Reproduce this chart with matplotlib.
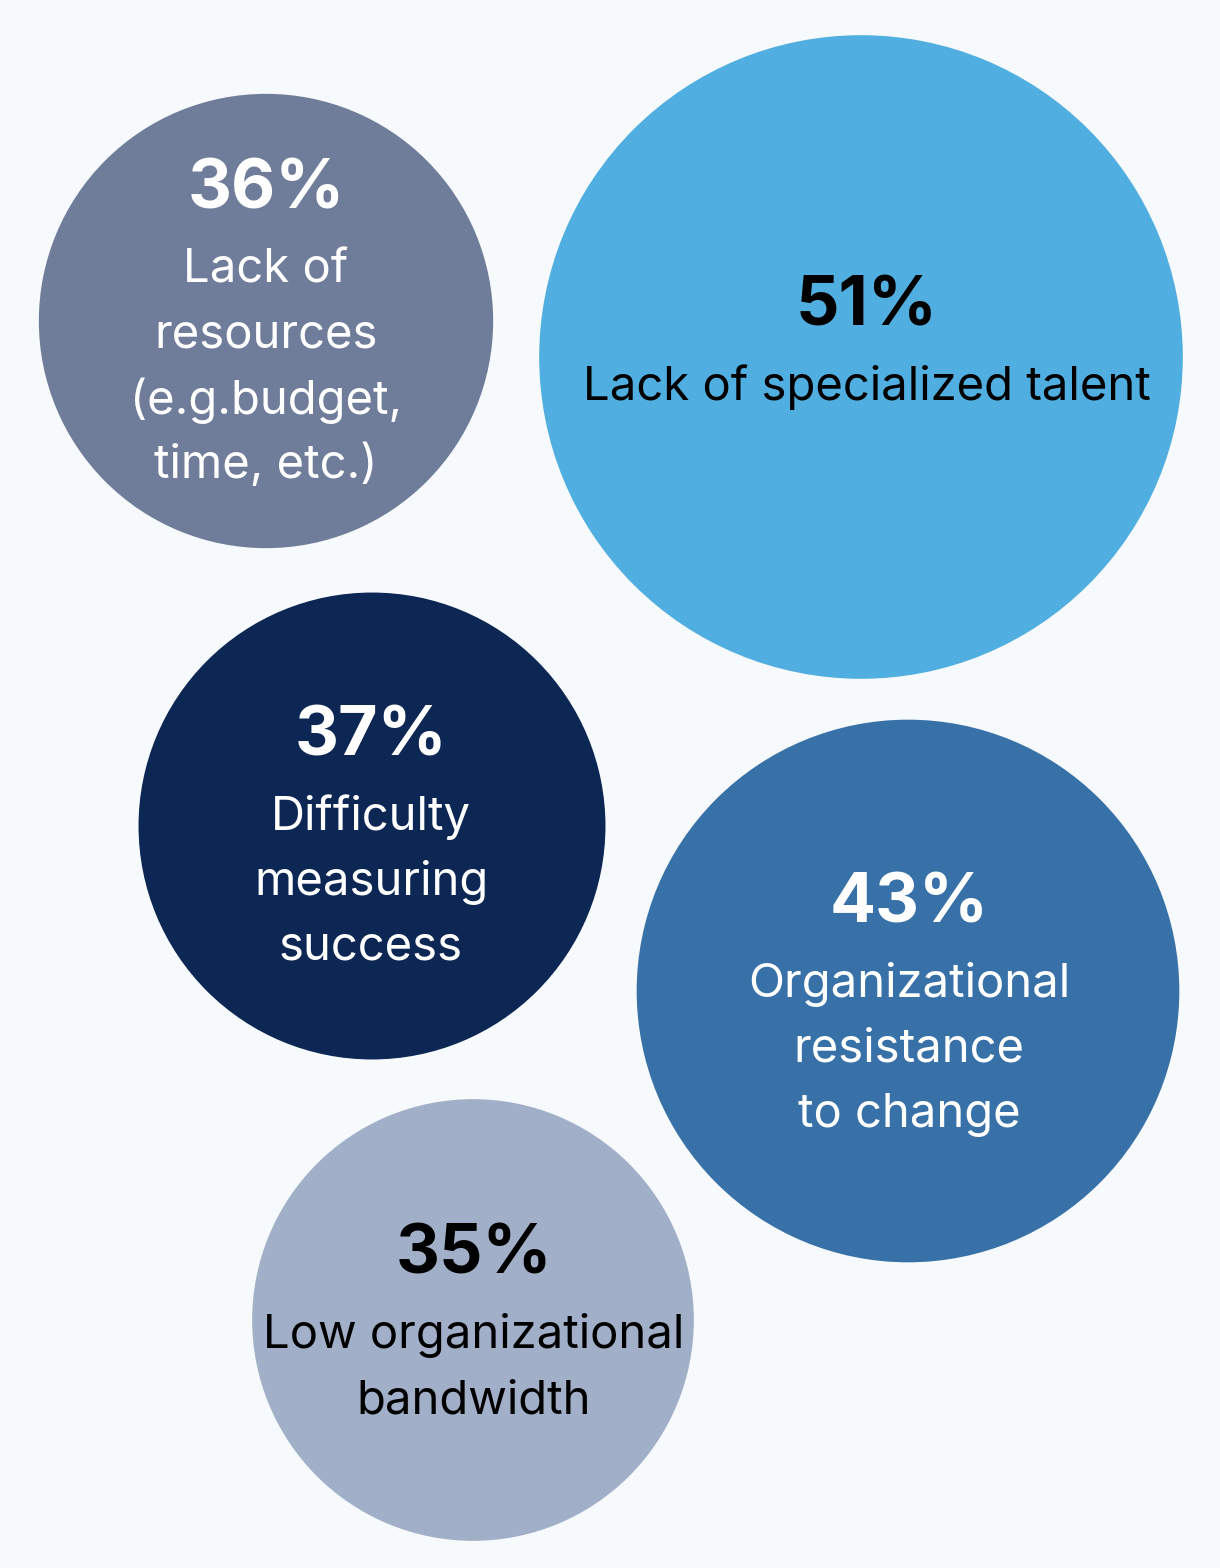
import matplotlib
matplotlib.use("Agg")
import matplotlib.pyplot as plt
from matplotlib.patches import Circle

# ---- data ----
values = [36, 51, 37, 43, 35]
labels = [
    ["Lack of", "resources", "(e.g.budget,", "time, etc.)"],
    ["Lack of specialized talent"],
    ["Difficulty", "measuring", "success"],
    ["Organizational", "resistance", "to change"],
    ["Low organizational", "bandwidth"],
]

# ---- layout / style ----
W, H = 1220, 1568
centers = [(266, 321), (861, 357), (372, 826), (908, 991), (473, 1320)]
text_x = [266, 867, 371, 909, 474]
pct_y = [183, 300, 730, 897, 1249]
colors = ["#707D9A", "#51AEE0", "#0D2755", "#3771A8", "#A1B0C8"]
text_colors = ["white", "black", "white", "white", "black"]
bg = "#F6FAFC"
px_per_pct = 6.31
gap_first = 82
line_step = 65.3

plt.rcParams['font.family'] = ['Inter', 'DejaVu Sans']

fig = plt.figure(figsize=(W / 100, H / 100), dpi=100, facecolor=bg)
ax = fig.add_axes([0, 0, 1, 1])
ax.set_xlim(0, W)
ax.set_ylim(H, 0)
ax.set_aspect('equal')
ax.axis('off')
ax.set_facecolor(bg)

for v, (cx, cy), tx, col, tc, py, lab in zip(values, centers, text_x, colors, text_colors, pct_y, labels):
    ax.add_patch(Circle((cx, cy), v * px_per_pct, facecolor=col, edgecolor='none'))
    ax.text(tx, py, f"{v}%", ha='center', va='center_baseline', color=tc,
            fontsize=49, fontweight='bold')
    for i, line in enumerate(lab):
        ax.text(tx, py + gap_first + i * line_step, line, ha='center', va='center_baseline',
                color=tc, fontsize=34)

fig.savefig("out.png", dpi=100, facecolor=bg)
